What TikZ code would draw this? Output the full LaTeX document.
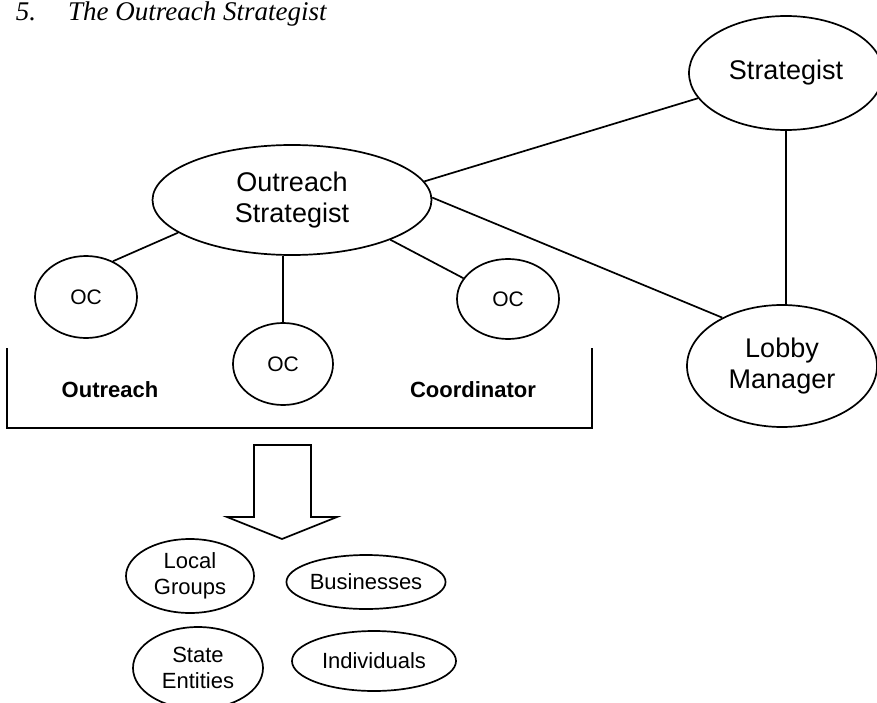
\documentclass[tikz,border=0pt]{standalone}
\usepackage{fontspec}
\setmainfont{Liberation Sans}
\newfontfamily\titlefont{Liberation Serif}
\usetikzlibrary{shapes.geometric}

\begin{document}
\begin{tikzpicture}[x=1pt, y=-1pt, line width=1.7pt,
		bubble/.style={draw, ellipse, inner sep=0pt, align=center},
		bigtxt/.style={font=\fontsize{27}{31}\selectfont},
		octxt/.style={font=\fontsize{21}{25}\selectfont},
		smalltxt/.style={font=\fontsize{22}{26}\selectfont},
		boldtxt/.style={font=\bfseries\fontsize{22}{26}\selectfont}]
			\useasboundingbox (0,0) rectangle (877,703);
			
			\node[anchor=base west, inner sep=0pt, font=\titlefont\itshape\fontsize{27}{30}\selectfont] (title) at (15,21) {5.\hspace{32pt}The Outreach Strategist};
			
			\node[bubble, bigtxt, minimum width=194pt, minimum height=114pt] (strat) at (786,73) {Strategist};
			\node[bubble, bigtxt, minimum width=279pt, minimum height=110pt] (os) at (292,200) {Outreach\\Strategist};
			\node[bubble, bigtxt, minimum width=190pt, minimum height=122pt] (lobby) at (782,366) {Lobby\\Manager};
			
			\node[bubble, octxt, minimum width=102pt, minimum height=82pt] (oc1) at (86,297) {OC};
			\node[bubble, octxt, minimum width=100pt, minimum height=82pt] (oc2) at (283,364) {OC};
			\node[bubble, octxt, minimum width=102pt, minimum height=80pt] (oc3) at (508,299) {OC};
			
			\path (os.8) edge (strat.196);
			\path (os.1) edge (lobby.141);
			\path (strat.south) edge (strat.south |- lobby.north);
			\path (os.196) edge (oc1.53);
			\path (os.south -| oc2.north) edge (oc2.north);
			\path (os.338) edge (oc3.155);
			
			\draw (7,348) -- (7,428) -- (592,428) -- (592,348);
			\node[boldtxt] (lblout) at (110,390) {Outreach};
			\node[boldtxt] (lblcoord) at (473,390) {Coordinator};
			
			\draw (254,445) -- (254,517) -- (227,517) -- (282,539) -- (337,517) -- (311,517) -- (311,445) -- cycle;
			
			\node[bubble, smalltxt, minimum width=128pt, minimum height=74pt] (local) at (190,576) {Local\\Groups};
			\node[bubble, smalltxt, minimum width=156pt, minimum height=54pt] (biz) at (366,582) {Businesses};
			\node[bubble, smalltxt, minimum width=130pt, minimum height=82pt] (state) at (198,668) {State\\Entities};
			\node[bubble, smalltxt, minimum width=164pt, minimum height=60pt] (indiv) at (374,661) {Individuals};
			\end{tikzpicture}
\end{document}
